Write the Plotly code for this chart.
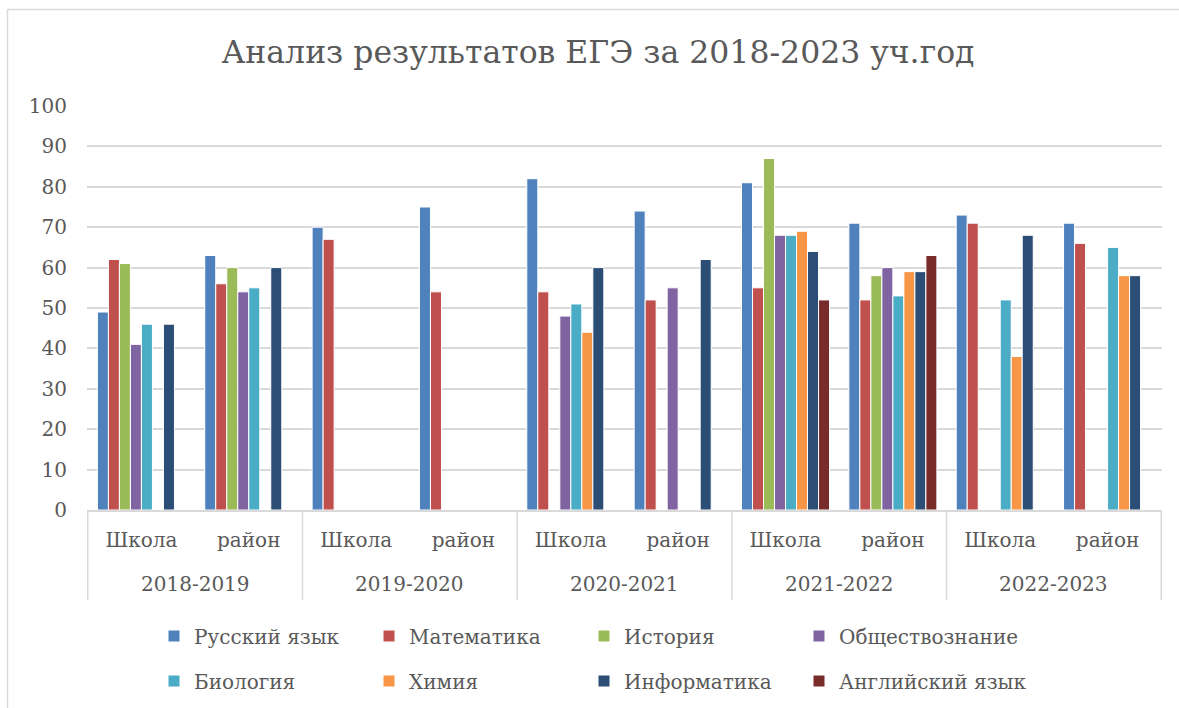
import plotly.graph_objects as go

years = ["2018-2019", "2019-2020", "2020-2021", "2021-2022", "2022-2023"]
groups = ["Школа", "район"]
categories = [f"{g} {y}" for y in years for g in groups]
cat_labels = [g for y in years for g in groups]

russian = [49, 63, 70, 75, 82, 74, 81, 71, 73, 71]
math = [62, 56, 67, 54, 54, 52, 55, 52, 71, 66]
history = [61, 60, None, None, None, None, 87, 58, None, None]
social = [41, 54, None, None, 48, 55, 68, 60, None, None]
biology = [46, 55, None, None, 51, None, 68, 53, 52, 65]
chemistry = [None, None, None, None, 44, None, 69, 59, 38, 58]
informatics = [46, 60, None, None, 60, 62, 64, 59, 68, 58]
english = [None, None, None, None, None, None, 52, 63, None, None]

series = [
    ("Русский язык", russian, "#4F81BD"),
    ("Математика", math, "#C0504D"),
    ("История", history, "#9BBB59"),
    ("Обществознание", social, "#8064A2"),
    ("Биология", biology, "#4BACC6"),
    ("Химия", chemistry, "#F79646"),
    ("Информатика", informatics, "#2C4D75"),
    ("Английский язык", english, "#772C2A"),
]

FONT = "DejaVu Serif"
TXT = "#595959"
GRID = "#d9d9d9"

W, H = 1179, 708
L, R, T, B = 87, 17, 106, 198
pw, ph = W - L - R, H - T - B

def px(xp):
    return (xp - L) / pw

def py(yp):
    return (H - B - yp) / ph

fig = go.Figure()
legend_layout = {}
for i, (name, vals, col) in enumerate(series):
    key = "legend" if i == 0 else f"legend{i + 1}"
    fig.add_trace(go.Bar(
        x=categories, y=vals, name=name,
        marker=dict(color=col, line=dict(color="white", width=1)),
        legend=key,
    ))
    col_i, row_i = i % 4, i // 4
    legend_layout[key] = dict(
        xref="container", yref="container",
        x=(154 + 215 * col_i) / W, y=1 - (636 + 45 * row_i) / H,
        xanchor="left", yanchor="middle", itemwidth=30,
        font=dict(family=FONT, size=20, color=TXT), bgcolor="rgba(0,0,0,0)")

fig.update_layout(
    width=W, height=H,
    margin=dict(l=L, r=R, t=T, b=B, autoexpand=False),
    paper_bgcolor="white", plot_bgcolor="white",
    barmode="group", bargap=0.18, bargroupgap=0.0,
    font=dict(family=FONT, color=TXT, size=20),
    title=dict(text="Анализ результатов ЕГЭ за 2018-2023 уч.год",
               x=598 / W, xanchor="center", y=1 - 52 / H, yanchor="middle",
               font=dict(family=FONT, size=31.5, color=TXT)),
    xaxis=dict(type="category", categoryorder="array", categoryarray=categories,
               tickmode="array", tickvals=categories, ticktext=cat_labels,
               showline=True, linecolor=GRID, linewidth=1.5, ticks="",
               ticklabelstandoff=11, automargin=False,
               tickfont=dict(family=FONT, size=20, color=TXT)),
    yaxis=dict(range=[0, 100], dtick=10, showgrid=True, gridcolor=GRID, gridwidth=1.5,
               zeroline=False, showline=False, ticks="", automargin=False,
               ticklabelstandoff=19,
               tickfont=dict(family=FONT, size=20, color=TXT)),
    showlegend=True,
    **legend_layout,
)

# dividers of the two-level category axis
n = len(categories)
for k in range(0, n + 1, 2):
    fig.add_shape(type="line", xref="x", yref="paper",
                  x0=k - 0.5, x1=k - 0.5, y0=0, y1=py(600),
                  line=dict(color=GRID, width=1.5))

# year labels under each pair
for j, yr in enumerate(years):
    fig.add_annotation(x=2 * j + 0.5, xref="x", y=py(584), yref="paper",
                       text=yr, showarrow=False, xanchor="center", yanchor="middle",
                       font=dict(family=FONT, size=20, color=TXT))

# chart border
fig.add_shape(type="rect", xref="paper", yref="paper",
              x0=px(7.5), x1=px(1190), y0=py(720), y1=py(9.5),
              line=dict(color=GRID, width=1.5), layer="below")

fig.write_html("out.html", config={"displayModeBar": False},
               post_script="document.body.style.margin='0';")
